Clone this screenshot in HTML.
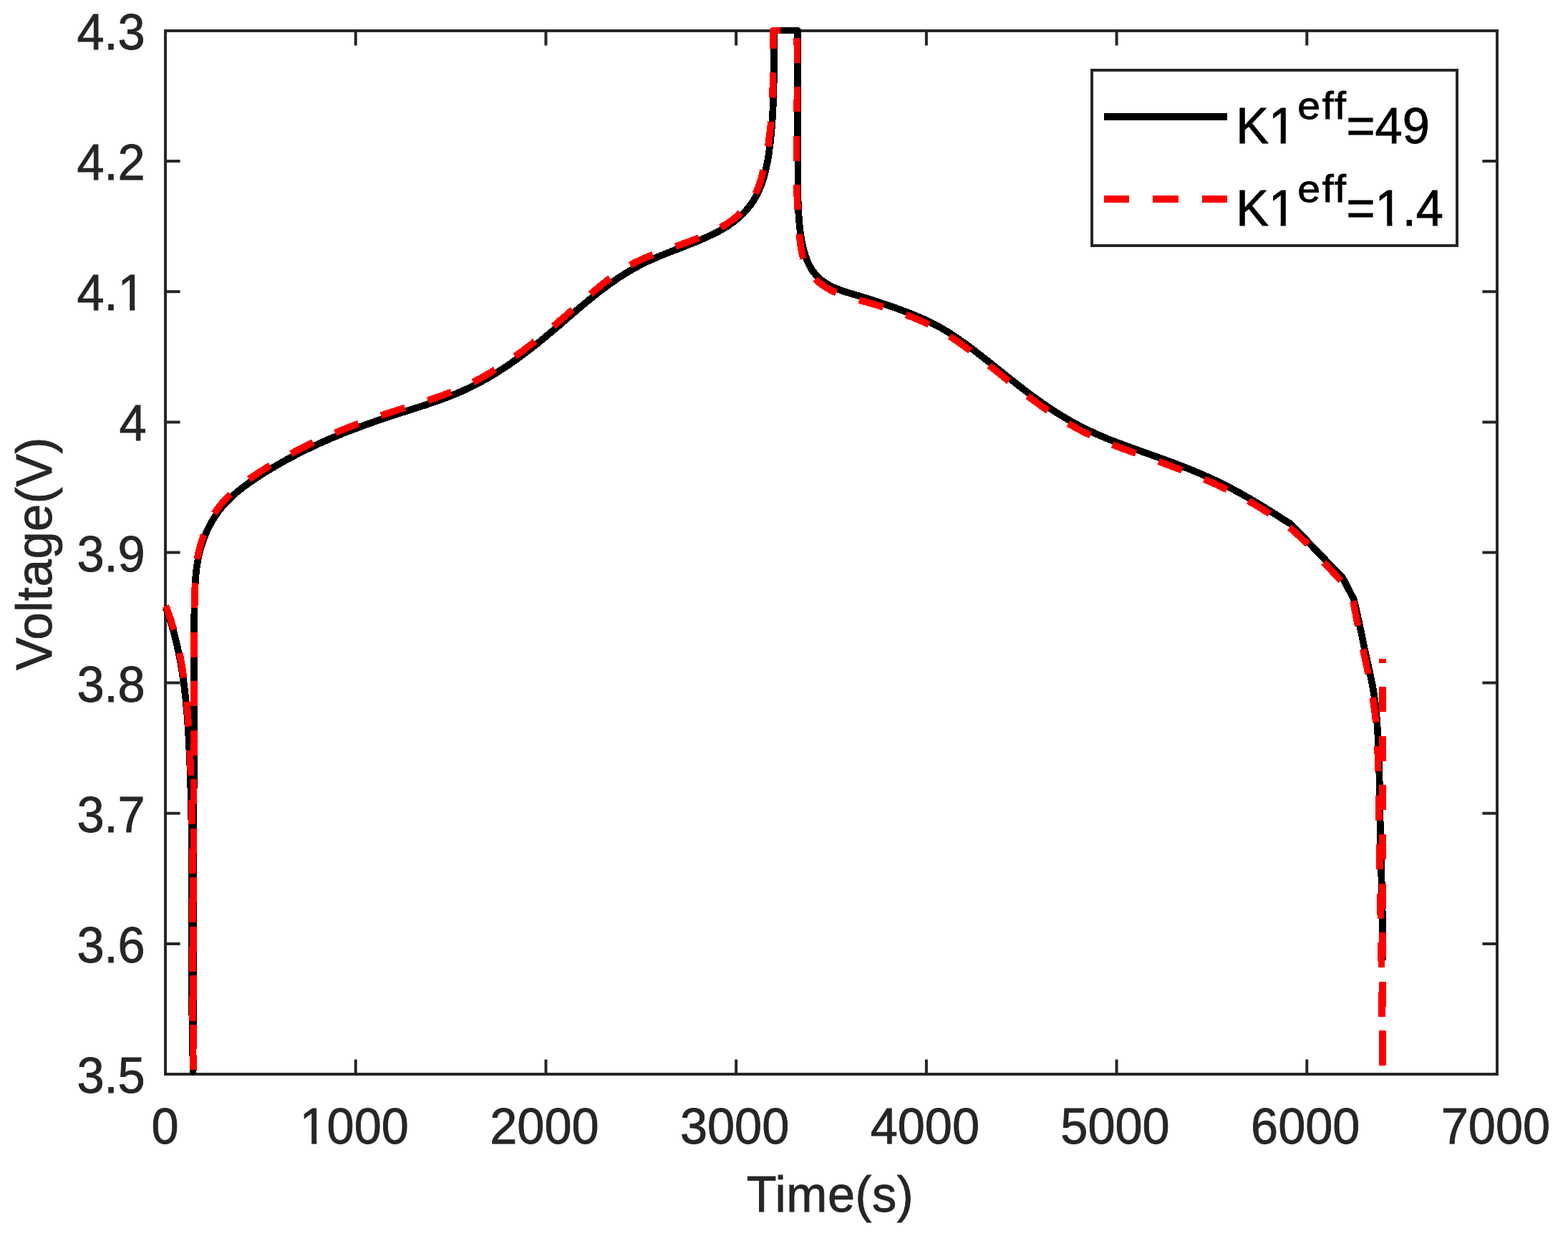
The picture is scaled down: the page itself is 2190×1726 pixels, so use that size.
<!DOCTYPE html>
<html lang="en">
<head>
<meta charset="utf-8">
<title>Voltage vs Time</title>
<style>
html,body{margin:0;padding:0;background:#fff;}
body{width:2190px;height:1726px;overflow:hidden;}
svg{display:block;position:absolute;left:0;top:0;}
text{font-family:"Liberation Sans",Arial,Helvetica,sans-serif;font-size:68.5px;}
.tl{fill:#262626;stroke:#262626;stroke-width:0.85px;}
.lg{fill:#000;stroke:#000;stroke-width:0.9px;}
.sup{font-size:54.5px;letter-spacing:2.4px;}
</style>
</head>
<body>
<svg width="2190" height="1726" viewBox="0 0 2190 1726">
<defs><clipPath id="one1"><path clip-rule="evenodd" d="M-200 -100H400V60H-200ZM-72.60 -7H-59.45V3H-72.60ZM-52.40 -7H-39.70V3H-52.40Z"/></clipPath><clipPath id="one2"><path clip-rule="evenodd" d="M-200 -100H400V60H-200ZM-34.50 -7H-21.35V3H-34.50ZM-14.30 -7H-1.60V3H-14.30Z"/></clipPath><clipPath id="one3"><path clip-rule="evenodd" d="M-200 -100H400V60H-200ZM49.27 -7H62.42V3H49.27ZM69.47 -7H82.17V3H69.47Z"/></clipPath><clipPath id="one4"><path clip-rule="evenodd" d="M-200 -100H400V60H-200ZM43.59 -7H56.74V3H43.59ZM63.79 -7H76.49V3H63.79Z"/></clipPath><clipPath id="axclip"><rect x="225" y="37" width="1872" height="1469"/></clipPath></defs>
<rect x="0" y="0" width="2190" height="1726" fill="#fff"/>
<rect x="231" y="43" width="1860" height="1457" fill="#fff" stroke="none"/>
<path d="M496.71 1500V1479.4M496.71 43V63.6M762.43 1500V1479.4M762.43 43V63.6M1028.14 1500V1479.4M1028.14 43V63.6M1293.86 1500V1479.4M1293.86 43V63.6M1559.57 1500V1479.4M1559.57 43V63.6M1825.29 1500V1479.4M1825.29 43V63.6M231 1317.88H251.6M2091 1317.88H2070.4M231 1135.75H251.6M2091 1135.75H2070.4M231 953.62H251.6M2091 953.62H2070.4M231 771.50H251.6M2091 771.50H2070.4M231 589.38H251.6M2091 589.38H2070.4M231 407.25H251.6M2091 407.25H2070.4M231 225.12H251.6M2091 225.12H2070.4" stroke="#262626" stroke-width="4" fill="none"/>
<rect x="231" y="43" width="1860" height="1457" fill="none" stroke="#262626" stroke-width="4"/>
<g clip-path="url(#axclip)" shape-rendering="crispEdges"><path d="M231.0 848.0L232.9 851.6L234.2 855.4L235.5 859.3L236.8 863.1L238.0 867.0L239.2 870.8L240.4 874.7L241.5 878.5L242.6 882.4L243.6 886.3L244.6 890.2L245.6 894.1L246.5 898.0L247.5 901.9L248.3 905.8L249.2 909.8L250.0 913.7L250.8 917.6L251.5 921.6L252.3 925.5L253.0 929.4L253.6 933.4L254.3 937.4L254.9 941.3L255.5 945.3L256.1 949.3L256.6 953.2L257.2 957.2L257.7 961.2L258.1 965.2L258.6 969.2L259.0 973.2L259.5 977.2L259.9 981.2L260.2 985.2L260.6 989.2L261.0 993.2L261.3 997.2L261.6 1001.2L261.9 1005.2L262.2 1009.2L262.5 1013.2L262.8 1017.2L263.0 1021.3L263.2 1025.3L263.5 1029.3L263.7 1033.3L263.9 1037.3L264.1 1041.4L264.3 1045.4L264.5 1049.4L264.7 1053.4L264.9 1057.5L265.0 1061.5L265.2 1065.5L265.4 1069.5L265.5 1073.6L265.7 1077.6L265.8 1081.6L265.9 1085.6L266.1 1089.6L266.2 1093.7L266.3 1097.7L266.4 1101.7L266.5 1105.7L266.7 1109.8L266.8 1113.8L266.8 1117.8L266.9 1121.8L267.0 1125.9L267.1 1129.9L267.2 1133.9L267.3 1137.9L267.3 1142.0L267.4 1146.0L267.5 1150.0L267.5 1154.0L267.6 1158.1L267.6 1162.1L267.7 1166.1L267.7 1170.1L267.8 1174.2L267.8 1178.2L267.8 1182.2L267.9 1186.2L267.9 1190.3L267.9 1194.3L267.9 1198.3L268.0 1202.3L268.0 1206.4L268.0 1210.4L268.0 1214.4L268.0 1218.4L268.0 1222.4L268.1 1226.5L268.1 1230.5L268.1 1234.5L268.1 1238.5L268.1 1242.6L268.1 1246.6L268.1 1250.6L268.1 1254.6L268.1 1258.7L268.1 1262.7L268.1 1266.7L268.1 1270.7L268.1 1274.8L268.1 1278.8L268.0 1282.8L268.0 1286.8L268.0 1290.9L268.0 1294.9L268.0 1298.9L268.0 1302.9L268.0 1307.0L268.0 1311.0L268.0 1315.0L268.0 1319.0L268.0 1323.1L268.0 1327.1L268.0 1331.1L268.0 1335.1L268.0 1339.1L268.0 1343.2L268.0 1347.2L268.0 1351.2L268.0 1355.2L268.0 1359.3L268.0 1363.3L268.0 1367.3L268.0 1371.3L268.1 1375.4L268.1 1379.4L268.1 1383.4L268.1 1387.4L268.1 1391.4L268.2 1395.5L268.2 1399.5L268.2 1403.5L268.3 1407.5L268.3 1411.6L268.3 1415.6L268.4 1419.6L268.4 1423.6L268.5 1427.6L268.5 1431.7L268.6 1435.7L268.7 1439.7L268.7 1443.7L268.8 1447.7L268.9 1451.8L268.9 1455.8L269.0 1459.8L269.1 1463.8L269.2 1467.8L269.3 1471.9L269.4 1475.9L269.5 1479.9L269.6 1483.9L269.7 1487.9L269.9 1492.0L269.6 1496.0L269.7 1492.0L269.6 1488.0L269.6 1484.0L269.6 1480.0L269.6 1476.0L269.6 1472.0L269.6 1468.0L269.6 1464.0L269.6 1460.0L269.6 1456.0L269.6 1452.0L269.6 1448.0L269.6 1444.0L269.6 1440.0L269.6 1436.0L269.7 1432.0L269.7 1428.0L269.7 1424.0L269.7 1420.0L269.7 1416.0L269.7 1412.0L269.7 1408.0L269.7 1404.0L269.7 1400.0L269.7 1396.0L269.7 1392.0L269.7 1388.0L269.7 1384.0L269.7 1380.0L269.7 1376.0L269.7 1372.0L269.8 1368.0L269.8 1364.0L269.8 1359.9L269.8 1355.9L269.8 1351.9L269.8 1347.9L269.8 1343.9L269.8 1339.9L269.8 1335.9L269.9 1331.9L269.9 1327.9L269.9 1323.9L269.9 1319.9L269.9 1315.9L269.9 1311.9L269.9 1307.9L269.9 1303.9L270.0 1299.9L270.0 1295.9L270.0 1291.9L270.0 1287.9L270.0 1283.9L270.0 1279.9L270.0 1275.9L270.0 1271.9L270.1 1267.9L270.1 1263.9L270.1 1259.9L270.1 1255.9L270.1 1251.9L270.1 1247.9L270.2 1243.9L270.2 1239.9L270.2 1235.9L270.2 1231.8L270.2 1227.8L270.2 1223.8L270.2 1219.8L270.3 1215.8L270.3 1211.8L270.3 1207.8L270.3 1203.8L270.3 1199.8L270.3 1195.8L270.3 1191.8L270.4 1187.8L270.4 1183.8L270.4 1179.8L270.4 1175.8L270.4 1171.8L270.4 1167.8L270.4 1163.8L270.5 1159.8L270.5 1155.8L270.5 1151.8L270.5 1147.8L270.5 1143.8L270.5 1139.8L270.5 1135.8L270.6 1131.8L270.6 1127.8L270.6 1123.8L270.6 1119.8L270.6 1115.8L270.6 1111.8L270.6 1107.8L270.6 1103.8L270.7 1099.8L270.7 1095.7L270.7 1091.7L270.7 1087.7L270.7 1083.7L270.7 1079.7L270.7 1075.7L270.7 1071.7L270.7 1067.7L270.7 1063.7L270.8 1059.7L270.8 1055.7L270.8 1051.7L270.8 1047.7L270.8 1043.7L270.8 1039.7L270.8 1035.7L270.8 1031.7L270.8 1027.7L270.8 1023.7L270.8 1019.7L270.8 1015.7L270.8 1011.7L270.8 1007.7L270.9 1003.7L270.9 999.7L270.9 995.7L270.9 991.7L270.9 987.7L270.9 983.7L270.9 979.7L270.9 975.7L270.9 971.7L270.9 967.7L270.9 963.7L270.9 959.7L270.9 955.7L270.9 951.7L270.9 947.7L270.9 943.7L270.9 939.7L270.9 935.7L270.9 931.7L270.9 927.7L270.9 923.7L270.9 919.7L270.9 915.8L270.9 911.8L270.9 907.8L270.9 903.8L270.9 899.8L270.9 895.8L270.9 891.8L271.0 887.8L271.0 883.8L271.0 879.8L271.1 875.7L271.1 871.7L271.2 867.7L271.3 863.7L271.3 859.7L271.4 855.7L271.5 851.7L271.6 847.7L271.7 843.7L271.8 839.7L271.9 835.7L272.0 831.7L272.2 827.7L272.3 823.6L272.5 819.6L272.7 815.6L272.9 811.6L273.2 807.6L273.5 803.6L273.9 799.6L274.3 795.6L274.8 791.7L275.4 787.7L276.1 783.7L276.8 779.8L277.6 775.9L278.5 772.0L279.6 768.1L280.6 764.2L281.8 760.4L283.1 756.6L284.4 752.8L285.9 749.1L287.4 745.4L289.0 741.7L290.7 738.1L292.5 734.5L294.4 731.0L296.3 727.6L298.4 724.2L300.5 720.8L302.8 717.5L305.1 714.3L307.5 711.2L310.0 708.1L312.6 705.1L315.2 702.1L318.0 699.3L320.8 696.5L323.7 693.7L326.6 691.0L329.6 688.4L332.7 685.8L335.8 683.3L339.0 680.8L342.2 678.4L345.5 676.0L348.8 673.7L352.1 671.4L355.5 669.1L358.8 666.9L362.2 664.7L365.6 662.5L369.0 660.3L372.4 658.2L375.9 656.1L379.3 654.0L382.8 652.0L386.2 650.0L389.7 648.0L393.2 646.0L396.7 644.0L400.2 642.1L403.7 640.2L407.2 638.3L410.8 636.5L414.3 634.6L417.9 632.8L421.4 631.0L425.0 629.2L428.6 627.5L432.2 625.8L435.8 624.0L439.4 622.4L443.0 620.7L446.6 619.0L450.3 617.4L453.9 615.8L457.6 614.2L461.2 612.6L464.9 611.1L468.6 609.5L472.3 608.0L476.0 606.5L479.7 605.0L483.4 603.5L487.1 602.0L490.8 600.6L494.6 599.2L498.3 597.8L502.0 596.4L505.8 595.0L509.5 593.6L513.3 592.2L517.1 590.9L520.9 589.6L524.6 588.2L528.4 586.9L532.2 585.6L536.0 584.3L539.8 583.1L543.6 581.8L547.5 580.6L551.3 579.3L555.1 578.1L558.9 576.9L562.8 575.6L566.6 574.4L570.5 573.2L574.3 572.0L578.1 570.7L582.0 569.5L585.8 568.3L589.6 567.0L593.4 565.8L597.2 564.5L601.0 563.2L604.8 561.9L608.6 560.6L612.4 559.3L616.2 557.9L619.9 556.5L623.7 555.1L627.4 553.7L631.1 552.2L634.8 550.7L638.5 549.2L642.1 547.6L645.8 546.0L649.4 544.4L653.0 542.7L656.6 541.0L660.1 539.2L663.7 537.4L667.2 535.6L670.7 533.7L674.2 531.8L677.7 529.8L681.1 527.9L684.5 525.9L688.0 523.8L691.4 521.8L694.7 519.7L698.1 517.5L701.5 515.4L704.8 513.2L708.1 511.0L711.4 508.8L714.7 506.5L718.0 504.2L721.3 501.9L724.5 499.5L727.7 497.2L731.0 494.8L734.2 492.4L737.4 490.0L740.5 487.5L743.7 485.1L746.9 482.6L750.0 480.1L753.2 477.6L756.3 475.0L759.4 472.5L762.5 469.9L765.6 467.3L768.7 464.7L771.8 462.1L774.8 459.5L777.9 456.9L781.0 454.3L784.0 451.7L787.1 449.0L790.2 446.4L793.2 443.8L796.3 441.2L799.3 438.5L802.4 435.9L805.4 433.3L808.5 430.7L811.6 428.1L814.7 425.5L817.8 423.0L820.8 420.4L823.9 417.9L827.1 415.4L830.2 412.9L833.3 410.4L836.5 407.9L839.6 405.5L842.8 403.1L846.0 400.7L849.2 398.3L852.4 396.0L855.6 393.7L858.9 391.5L862.2 389.2L865.5 387.0L868.8 384.9L872.1 382.7L875.5 380.7L878.9 378.6L882.3 376.6L885.8 374.7L889.2 372.8L892.7 370.9L896.3 369.1L899.8 367.3L903.4 365.6L907.0 363.9L910.6 362.3L914.3 360.7L918.0 359.1L921.6 357.6L925.4 356.1L929.1 354.6L932.8 353.1L936.6 351.6L940.3 350.1L944.1 348.7L947.8 347.2L951.6 345.8L955.4 344.3L959.1 342.8L962.9 341.3L966.7 339.8L970.4 338.3L974.2 336.8L977.9 335.2L981.6 333.6L985.3 331.9L989.0 330.3L992.7 328.5L996.3 326.8L999.9 324.9L1003.5 323.1L1007.0 321.1L1010.5 319.1L1013.9 317.1L1017.2 314.9L1020.5 312.7L1023.7 310.4L1026.9 308.0L1030.0 305.5L1033.0 302.9L1035.9 300.2L1038.7 297.5L1041.4 294.6L1044.0 291.6L1046.5 288.5L1048.8 285.4L1051.1 282.1L1053.2 278.8L1055.2 275.4L1057.1 271.9L1058.9 268.3L1060.6 264.7L1062.1 261.1L1063.6 257.4L1064.9 253.6L1066.2 249.8L1067.3 246.0L1068.3 242.1L1069.3 238.2L1070.2 234.3L1071.0 230.3L1071.8 226.4L1072.5 222.4L1073.2 218.4L1073.8 214.4L1074.3 210.4L1074.9 206.4L1075.4 202.4L1075.9 198.4L1076.3 194.4L1076.7 190.4L1077.1 186.4L1077.5 182.4L1077.8 178.4L1078.2 174.5L1078.5 170.5L1078.7 166.5L1079.0 162.5L1079.2 158.5L1079.4 154.5L1079.6 150.6L1079.8 146.6L1080.0 142.6L1080.1 138.6L1080.2 134.6L1080.4 130.6L1080.5 126.7L1080.6 122.7L1080.6 118.7L1080.7 114.7L1080.7 110.7L1080.8 106.7L1080.8 102.7L1080.9 98.7L1080.9 94.7L1080.9 90.7L1080.9 86.7L1080.9 82.7L1080.9 78.7L1080.9 74.7L1080.9 70.7L1080.9 66.7L1080.9 62.7L1080.9 58.7L1080.9 54.6L1080.9 50.6L1080.9 46.6L1080.9 42.6L1113.9 42.6L1113.9 46.6L1113.9 50.6L1113.8 54.6L1113.8 58.5L1113.8 62.5L1113.7 66.5L1113.7 70.5L1113.7 74.5L1113.7 78.5L1113.7 82.5L1113.7 86.5L1113.7 90.5L1113.7 94.5L1113.7 98.5L1113.7 102.5L1113.7 106.5L1113.7 110.5L1113.7 114.6L1113.8 118.6L1113.8 122.6L1113.8 126.6L1113.8 130.6L1113.9 134.6L1113.9 138.7L1113.9 142.7L1114.0 146.7L1114.0 150.7L1114.0 154.7L1114.0 158.8L1114.1 162.8L1114.1 166.8L1114.1 170.8L1114.2 174.8L1114.2 178.8L1114.2 182.8L1114.3 186.9L1114.3 190.9L1114.3 194.9L1114.4 198.9L1114.4 202.9L1114.4 206.9L1114.4 210.9L1114.4 214.9L1114.4 218.9L1114.5 222.9L1114.5 226.9L1114.5 230.8L1114.5 234.8L1114.5 238.8L1114.5 242.8L1114.5 246.7L1114.5 250.7L1114.5 254.7L1114.5 258.7L1114.5 262.6L1114.5 266.6L1114.5 270.6L1114.6 274.5L1114.6 278.5L1114.7 282.5L1114.9 286.4L1115.0 290.4L1115.2 294.4L1115.4 298.4L1115.7 302.4L1116.0 306.4L1116.3 310.4L1116.7 314.4L1117.1 318.5L1117.6 322.5L1118.1 326.5L1118.7 330.6L1119.4 334.7L1120.2 338.7L1121.0 342.7L1121.9 346.7L1122.9 350.7L1124.1 354.5L1125.3 358.4L1126.7 362.1L1128.2 365.8L1129.9 369.3L1131.7 372.8L1133.7 376.1L1135.8 379.3L1138.2 382.3L1140.7 385.2L1143.4 388.0L1146.3 390.5L1149.4 392.9L1152.7 395.1L1156.2 397.2L1159.8 399.1L1163.4 400.9L1167.2 402.5L1171.0 404.1L1174.8 405.5L1178.6 406.8L1182.5 408.1L1186.4 409.3L1190.3 410.5L1194.1 411.6L1198.0 412.8L1201.9 413.9L1205.7 415.1L1209.5 416.2L1213.4 417.4L1217.2 418.6L1220.9 419.8L1224.7 421.1L1228.5 422.3L1232.3 423.6L1236.0 424.9L1239.8 426.2L1243.5 427.5L1247.3 428.8L1251.0 430.1L1254.8 431.5L1258.5 432.9L1262.3 434.3L1266.0 435.7L1269.8 437.1L1273.5 438.6L1277.2 440.1L1280.9 441.7L1284.6 443.3L1288.3 444.9L1291.9 446.5L1295.6 448.2L1299.2 449.9L1302.7 451.7L1306.3 453.6L1309.8 455.4L1313.3 457.4L1316.8 459.3L1320.2 461.4L1323.7 463.4L1327.0 465.6L1330.4 467.7L1333.7 469.9L1337.0 472.2L1340.3 474.5L1343.6 476.8L1346.9 479.1L1350.1 481.5L1353.3 483.9L1356.5 486.3L1359.7 488.7L1362.9 491.1L1366.1 493.6L1369.2 496.0L1372.4 498.5L1375.6 501.0L1378.7 503.4L1381.8 505.9L1385.0 508.4L1388.1 510.9L1391.2 513.4L1394.4 515.9L1397.5 518.4L1400.6 520.9L1403.8 523.4L1406.9 525.9L1410.0 528.4L1413.2 530.9L1416.3 533.3L1419.5 535.8L1422.6 538.3L1425.8 540.7L1429.0 543.2L1432.1 545.6L1435.3 548.0L1438.5 550.4L1441.7 552.8L1445.0 555.1L1448.2 557.5L1451.4 559.8L1454.7 562.1L1458.0 564.4L1461.3 566.7L1464.6 568.9L1467.9 571.1L1471.2 573.3L1474.6 575.5L1478.0 577.6L1481.4 579.7L1484.8 581.8L1488.3 583.8L1491.7 585.8L1495.2 587.8L1498.7 589.8L1502.2 591.7L1505.8 593.6L1509.3 595.4L1512.9 597.3L1516.5 599.1L1520.1 600.8L1523.7 602.5L1527.4 604.2L1531.0 605.9L1534.7 607.5L1538.3 609.1L1542.0 610.7L1545.7 612.2L1549.4 613.7L1553.1 615.2L1556.8 616.6L1560.6 618.0L1564.3 619.4L1568.0 620.8L1571.8 622.2L1575.5 623.6L1579.3 624.9L1583.0 626.3L1586.8 627.6L1590.6 629.0L1594.3 630.3L1598.1 631.7L1601.9 633.0L1605.7 634.4L1609.4 635.7L1613.2 637.1L1617.0 638.4L1620.7 639.8L1624.5 641.2L1628.3 642.5L1632.0 643.9L1635.8 645.3L1639.6 646.7L1643.3 648.1L1647.1 649.6L1650.8 651.0L1654.5 652.5L1658.3 653.9L1662.0 655.4L1665.7 656.9L1669.4 658.5L1673.1 660.0L1676.8 661.6L1680.4 663.2L1684.1 664.8L1687.8 666.4L1691.4 668.0L1695.0 669.7L1698.7 671.4L1702.3 673.2L1705.8 674.9L1709.4 676.7L1713.0 678.5L1716.5 680.3L1720.1 682.2L1723.6 684.1L1727.1 686.0L1730.6 687.9L1734.1 689.8L1737.6 691.8L1741.1 693.8L1744.5 695.8L1748.0 697.8L1751.4 699.8L1754.9 701.9L1758.3 703.9L1761.7 706.0L1765.2 708.1L1768.6 710.2L1772.0 712.3L1775.4 714.4L1778.7 716.6L1782.1 718.7L1785.5 720.9L1788.9 723.0L1792.2 725.2L1795.6 727.4L1799.0 729.5L1802.5 731.4L1875.4 807.2L1890.6 836.4L1891.6 840.3L1892.6 844.2L1893.5 848.1L1894.4 852.0L1895.3 855.9L1896.2 859.8L1897.0 863.7L1897.9 867.6L1898.7 871.5L1899.5 875.4L1900.3 879.3L1901.2 883.2L1902.0 887.1L1902.8 891.1L1903.6 895.0L1904.4 898.9L1905.2 902.8L1906.0 906.7L1906.9 910.6L1907.7 914.5L1908.6 918.4L1909.4 922.4L1910.3 926.3L1911.2 930.2L1912.0 934.1L1912.9 938.0L1913.7 941.9L1914.6 945.8L1915.4 949.8L1916.2 953.7L1917.0 957.6L1917.7 961.5L1918.3 965.5L1919.0 969.4L1919.6 973.4L1920.1 977.3L1920.6 981.3L1921.1 985.2L1921.5 989.2L1921.9 993.2L1922.3 997.2L1922.6 1001.1L1923.0 1005.1L1923.3 1009.1L1923.5 1013.1L1923.8 1017.1L1924.0 1021.1L1924.3 1025.0L1924.5 1029.0L1924.7 1033.0L1924.9 1037.0L1925.1 1041.0L1925.2 1045.0L1925.4 1049.0L1925.5 1053.0L1925.7 1057.0L1925.8 1061.0L1926.0 1065.0L1926.1 1069.0L1926.2 1073.0L1926.3 1077.0L1926.4 1081.0L1926.5 1085.0L1926.6 1089.0L1926.7 1093.0L1926.8 1097.0L1926.9 1101.0L1927.0 1105.0L1927.0 1109.0L1927.1 1113.0L1927.2 1117.0L1927.3 1121.0L1927.3 1125.0L1927.4 1129.0L1927.5 1133.0L1927.5 1137.0L1927.6 1141.0L1927.6 1145.0L1927.7 1149.0L1927.8 1153.0L1927.8 1157.0L1927.9 1161.0L1928.0 1165.0L1928.1 1169.0L1928.1 1173.0L1928.2 1177.0L1928.3 1181.0L1928.4 1185.0L1928.5 1189.0L1928.6 1193.0L1928.7 1197.0L1928.8 1201.0L1928.9 1205.0L1929.0 1209.0L1929.1 1213.0L1929.2 1217.0L1929.3 1221.0L1929.4 1225.0L1929.6 1229.0L1929.7 1233.0L1929.8 1237.0L1929.9 1241.0L1930.0 1245.0L1930.1 1249.0L1930.2 1253.0L1930.3 1257.0L1930.4 1261.0L1930.5 1265.0L1930.6 1269.0L1930.7 1273.0L1930.8 1277.0L1930.9 1281.0L1930.9 1285.0L1931.0 1289.0L1931.1 1293.0L1931.1 1297.0L1931.2 1301.0L1931.2 1305.0L1931.3 1309.0L1931.3 1313.0L1931.3 1317.0L1931.3 1321.0L1931.3 1325.0L1931.3 1329.0L1931.3 1333.0L1931.3 1337.0L1931.3 1341.0" fill="none" stroke="#000" stroke-width="9.7" stroke-linejoin="round"/>
<path d="M231.3 846.3L233.1 849.9L234.5 853.7L235.8 857.5L237.1 861.4L238.4 865.2L239.6 869.0L240.8 872.9L242.0 876.7L243.1 880.6L244.1 884.5L245.2 888.3L246.2 892.2L247.1 896.1L248.1 900.0L249.0 903.9L249.8 907.8L250.7 911.7L251.5 915.6L252.2 919.6L253.0 923.5L253.7 927.4L254.4 931.4L255.0 935.3L255.6 939.3L256.2 943.2L256.8 947.2L257.4 951.2L257.9 955.1L258.4 959.1L258.9 963.1L259.3 967.1L259.8 971.0L260.2 975.0L260.6 979.0L261.0 983.0L261.3 987.0L261.7 991.0L262.0 995.0L262.3 999.0L262.6 1003.0L262.9 1007.0L263.1 1011.0L263.4 1015.0L263.7 1019.0L263.9 1023.1L264.1 1027.1L264.3 1031.1L264.5 1035.1L264.7 1039.1L264.9 1043.1L265.1 1047.1L265.3 1051.2L265.5 1055.2L265.6 1059.2L265.8 1063.2L266.0 1067.2L266.1 1071.2L266.3 1075.2L266.4 1079.3L266.5 1083.3L266.7 1087.3L266.8 1091.3L266.9 1095.3L267.0 1099.3L267.2 1103.3L267.3 1107.4L267.4 1111.4L267.5 1115.4L267.6 1119.4L267.7 1123.4L267.8 1127.4L267.9 1131.4L267.9 1135.5L268.0 1139.5L268.1 1143.5L268.2 1147.5L268.2 1151.5L268.3 1155.5L268.4 1159.5L268.4 1163.6L268.5 1167.6L268.5 1171.6L268.6 1175.6L268.6 1179.6L268.7 1183.6L268.7 1187.6L268.7 1191.7L268.8 1195.7L268.8 1199.7L268.8 1203.7L268.9 1207.7L268.9 1211.7L268.9 1215.7L268.9 1219.7L269.0 1223.8L269.0 1227.8L269.0 1231.8L269.0 1235.8L269.0 1239.8L269.0 1243.8L269.0 1247.8L269.1 1251.9L269.1 1255.9L269.1 1259.9L269.1 1263.9L269.1 1267.9L269.1 1271.9L269.1 1275.9L269.1 1279.9L269.1 1284.0L269.1 1288.0L269.1 1292.0L269.1 1296.0L269.1 1300.0L269.1 1304.0L269.1 1308.0L269.1 1312.0L269.1 1316.1L269.1 1320.1L269.1 1324.1L269.0 1328.1L269.0 1332.1L269.0 1336.1L269.0 1340.1L269.0 1344.1L269.0 1348.2L269.0 1352.2L269.0 1356.2L269.0 1360.2L269.0 1364.2L269.0 1368.2L269.0 1372.2L269.0 1376.3L269.1 1380.3L269.1 1384.3L269.1 1388.3L269.1 1392.3L269.1 1396.3L269.1 1400.3L269.1 1404.3L269.1 1408.4L269.1 1412.4L269.2 1416.4L269.2 1420.4L269.2 1424.4L269.2 1428.4L269.3 1432.4L269.3 1436.4L269.3 1440.5L269.4 1444.5L269.4 1448.5L269.4 1452.5L269.5 1456.5L269.5 1460.5L269.6 1464.5L269.6 1468.6L269.7 1472.6L269.7 1476.6L269.8 1480.6L269.9 1484.6L269.9 1488.6L270.0 1492.6L269.6 1496.7L269.6 1492.6L269.6 1488.6L269.6 1484.6L269.6 1480.6L269.6 1476.6L269.6 1472.6L269.6 1468.6L269.7 1464.6L269.7 1460.6L269.7 1456.6L269.7 1452.6L269.7 1448.6L269.7 1444.6L269.7 1440.6L269.7 1436.6L269.7 1432.6L269.7 1428.6L269.7 1424.6L269.7 1420.6L269.7 1416.6L269.7 1412.6L269.7 1408.6L269.7 1404.6L269.7 1400.6L269.7 1396.5L269.8 1392.5L269.8 1388.5L269.8 1384.5L269.8 1380.5L269.8 1376.5L269.8 1372.5L269.8 1368.5L269.8 1364.5L269.8 1360.5L269.8 1356.5L269.8 1352.5L269.9 1348.5L269.9 1344.5L269.9 1340.5L269.9 1336.5L269.9 1332.5L269.9 1328.5L269.9 1324.5L269.9 1320.5L269.9 1316.5L269.9 1312.4L270.0 1308.4L270.0 1304.4L270.0 1300.4L270.0 1296.4L270.0 1292.4L270.0 1288.4L270.0 1284.4L270.0 1280.4L270.0 1276.4L270.1 1272.4L270.1 1268.4L270.1 1264.4L270.1 1260.4L270.1 1256.4L270.1 1252.4L270.1 1248.4L270.1 1244.4L270.2 1240.4L270.2 1236.4L270.2 1232.3L270.2 1228.3L270.2 1224.3L270.2 1220.3L270.2 1216.3L270.2 1212.3L270.3 1208.3L270.3 1204.3L270.3 1200.3L270.3 1196.3L270.3 1192.3L270.3 1188.3L270.3 1184.3L270.3 1180.3L270.4 1176.3L270.4 1172.3L270.4 1168.3L270.4 1164.3L270.4 1160.3L270.4 1156.3L270.4 1152.3L270.4 1148.2L270.5 1144.2L270.5 1140.2L270.5 1136.2L270.5 1132.2L270.5 1128.2L270.5 1124.2L270.5 1120.2L270.5 1116.2L270.5 1112.2L270.6 1108.2L270.6 1104.2L270.6 1100.2L270.6 1096.2L270.6 1092.2L270.6 1088.2L270.6 1084.2L270.6 1080.2L270.6 1076.2L270.7 1072.2L270.7 1068.2L270.7 1064.2L270.7 1060.1L270.7 1056.1L270.7 1052.1L270.7 1048.1L270.7 1044.1L270.7 1040.1L270.7 1036.1L270.8 1032.1L270.8 1028.1L270.8 1024.1L270.8 1020.1L270.8 1016.1L270.8 1012.1L270.8 1008.1L270.8 1004.1L270.8 1000.1L270.8 996.1L270.8 992.1L270.8 988.1L270.8 984.1L270.8 980.1L270.9 976.1L270.9 972.1L270.9 968.1L270.9 964.1L270.9 960.1L270.9 956.0L270.9 952.0L270.9 948.0L270.9 944.0L270.9 940.0L270.9 936.0L270.9 932.0L270.9 928.0L270.9 924.0L270.9 920.0L270.9 916.0L271.0 912.0L271.0 908.0L271.0 904.0L271.0 900.0L271.0 896.0L271.1 892.0L271.1 888.0L271.1 884.0L271.1 880.0L271.2 876.0L271.2 872.0L271.3 868.0L271.3 864.0L271.4 860.0L271.5 856.0L271.5 852.0L271.6 847.9L271.7 843.9L271.8 839.9L271.9 835.9L272.0 831.9L272.1 827.9L272.2 823.9L272.3 819.9L272.5 815.9L272.6 811.9L272.8 807.9L273.1 803.9L273.4 799.9L273.7 795.9L274.1 791.9L274.5 787.9L275.1 784.0L275.7 780.0L276.4 776.1L277.2 772.1L278.1 768.2L279.1 764.3L280.1 760.4L281.3 756.6L282.5 752.7L283.8 748.9L285.3 745.2L286.8 741.5L288.4 737.8L290.0 734.1L291.8 730.5L293.7 727.0L295.6 723.5L297.6 720.1L299.7 716.7L302.0 713.4L304.2 710.1L306.6 706.9L309.1 703.8L311.7 700.8L314.3 697.8L317.0 694.9L319.8 692.1L322.7 689.4L325.6 686.7L328.6 684.0L331.6 681.4L334.7 678.9L337.9 676.4L341.1 674.0L344.3 671.6L347.6 669.2L350.9 666.9L354.2 664.7L357.6 662.4L361.0 660.2L364.4 658.0L367.8 655.9L371.2 653.7L374.6 651.6L378.1 649.5L381.5 647.5L385.0 645.4L388.4 643.4L391.9 641.5L395.4 639.5L398.9 637.5L402.4 635.6L406.0 633.7L409.5 631.9L413.1 630.0L416.6 628.2L420.2 626.4L423.8 624.6L427.3 622.8L430.9 621.1L434.5 619.3L438.2 617.6L441.8 616.0L445.4 614.3L449.0 612.6L452.7 611.0L456.4 609.4L460.0 607.8L463.7 606.2L467.4 604.7L471.1 603.1L474.8 601.6L478.5 600.1L482.2 598.6L485.9 597.2L489.6 595.7L493.4 594.3L497.1 592.8L500.8 591.4L504.6 590.0L508.3 588.7L512.1 587.3L515.9 585.9L519.7 584.6L523.4 583.3L527.2 582.0L531.0 580.7L534.8 579.4L538.6 578.1L542.4 576.9L546.2 575.6L550.1 574.4L553.9 573.2L557.7 571.9L561.5 570.7L565.4 569.5L569.2 568.3L573.0 567.1L576.8 565.9L580.7 564.7L584.5 563.5L588.3 562.2L592.1 561.0L595.9 559.8L599.7 558.5L603.5 557.2L607.3 555.9L611.1 554.6L614.8 553.2L618.6 551.9L622.3 550.5L626.1 549.0L629.8 547.6L633.5 546.1L637.2 544.5L640.9 543.0L644.5 541.4L648.2 539.7L651.8 538.0L655.4 536.3L659.0 534.5L662.5 532.7L666.1 530.9L669.6 529.0L673.1 527.0L676.6 525.1L680.1 523.1L683.6 521.1L687.0 519.0L690.4 516.9L693.8 514.8L697.2 512.6L700.6 510.5L703.9 508.3L707.3 506.0L710.6 503.8L713.9 501.5L717.2 499.2L720.5 496.9L723.7 494.5L726.9 492.1L730.2 489.8L733.3 487.4L736.5 484.9L739.7 482.5L742.8 480.1L746.0 477.6L749.1 475.1L752.2 472.6L755.3 470.1L758.4 467.6L761.5 465.0L764.6 462.5L767.6 459.9L770.7 457.4L773.7 454.8L776.8 452.2L779.8 449.6L782.8 447.0L785.9 444.4L788.9 441.8L791.9 439.2L795.0 436.6L798.0 433.9L801.0 431.3L804.0 428.7L807.1 426.0L810.1 423.4L813.1 420.8L816.2 418.1L819.2 415.5L822.3 412.8L825.3 410.2L828.4 407.6L831.5 405.0L834.6 402.4L837.7 399.8L840.8 397.3L844.0 394.8L847.1 392.3L850.3 389.9L853.5 387.5L856.8 385.1L860.0 382.8L863.3 380.5L866.7 378.3L870.0 376.2L873.4 374.1L876.8 372.1L880.3 370.1L883.8 368.2L887.3 366.4L890.9 364.7L894.5 363.0L898.2 361.3L901.8 359.7L905.5 358.2L909.2 356.7L912.9 355.2L916.7 353.7L920.4 352.3L924.2 351.0L928.0 349.6L931.8 348.2L935.6 346.9L939.4 345.6L943.2 344.2L947.0 342.9L950.8 341.6L954.6 340.2L958.4 338.9L962.2 337.5L965.9 336.1L969.7 334.6L973.4 333.2L977.2 331.7L980.9 330.1L984.5 328.6L988.2 326.9L991.8 325.3L995.4 323.5L999.0 321.7L1002.5 319.9L1006.0 317.9L1009.5 315.9L1012.9 313.8L1016.2 311.7L1019.5 309.4L1022.8 307.1L1025.9 304.7L1029.0 302.2L1032.0 299.6L1035.0 296.9L1037.8 294.2L1040.5 291.3L1043.1 288.4L1045.6 285.4L1047.9 282.2L1050.2 279.0L1052.3 275.7L1054.2 272.2L1056.0 268.7L1057.6 265.1L1059.1 261.3L1060.5 257.6L1061.8 253.7L1063.0 249.8L1064.0 245.9L1065.1 241.9L1066.0 237.9L1067.0 234.0L1067.9 230.0L1068.7 226.1L1069.5 222.1L1070.3 218.1L1071.0 214.2L1071.7 210.2L1072.4 206.3L1073.0 202.3L1073.6 198.4L1074.1 194.4L1074.6 190.4L1075.1 186.5L1075.5 182.5L1076.0 178.5L1076.4 174.5L1076.7 170.6L1077.1 166.6L1077.4 162.6L1077.6 158.6L1077.9 154.7L1078.1 150.7L1078.4 146.7L1078.6 142.7L1078.7 138.7L1078.9 134.7L1079.0 130.7L1079.2 126.7L1079.3 122.7L1079.4 118.7L1079.4 114.7L1079.5 110.7L1079.6 106.7L1079.6 102.7L1079.7 98.7L1079.7 94.7L1079.7 90.7L1079.8 86.7L1079.8 82.7L1079.8 78.7L1079.8 74.7L1079.8 70.7L1079.9 66.7L1079.9 62.6L1079.9 58.6L1079.9 54.6L1080.0 50.6L1080.0 46.6L1080.0 42.6L1113.0 42.6L1112.8 46.5L1113.0 50.6L1113.1 54.6L1113.2 58.7L1113.3 62.7L1113.4 66.8L1113.4 70.8L1113.5 74.8L1113.5 78.9L1113.5 82.9L1113.6 86.9L1113.6 90.9L1113.6 94.9L1113.6 99.0L1113.6 103.0L1113.6 107.0L1113.6 111.0L1113.5 115.0L1113.5 119.0L1113.5 123.0L1113.4 127.0L1113.4 131.0L1113.3 135.0L1113.3 139.0L1113.2 143.0L1113.2 147.0L1113.1 151.0L1113.1 155.0L1113.0 159.0L1113.0 163.0L1112.9 167.0L1112.8 171.0L1112.8 174.9L1112.7 178.9L1112.7 182.9L1112.6 186.9L1112.6 190.9L1112.5 194.9L1112.5 198.9L1112.5 202.9L1112.5 206.9L1112.4 210.9L1112.4 214.9L1112.4 218.9L1112.4 222.9L1112.4 226.9L1112.4 230.9L1112.5 234.9L1112.5 238.9L1112.5 242.9L1112.6 246.9L1112.7 250.9L1112.7 254.9L1112.8 258.9L1112.9 262.9L1113.0 266.9L1113.2 270.9L1113.3 275.0L1113.4 279.0L1113.6 283.0L1113.8 287.0L1114.0 291.1L1114.2 295.1L1114.4 299.1L1114.7 303.2L1114.9 307.2L1115.2 311.3L1115.5 315.3L1115.8 319.4L1116.2 323.4L1116.5 327.5L1116.9 331.6L1117.3 335.6L1117.8 339.7L1118.3 343.7L1119.0 347.7L1119.7 351.6L1120.5 355.5L1121.5 359.3L1122.7 363.1L1124.0 366.8L1125.5 370.4L1127.1 373.9L1129.0 377.2L1131.2 380.5L1133.5 383.7L1136.0 386.7L1138.7 389.6L1141.6 392.3L1144.7 395.0L1147.8 397.4L1151.1 399.8L1154.5 401.9L1158.0 403.9L1161.6 405.8L1165.2 407.5L1168.9 409.1L1172.7 410.6L1176.5 412.0L1180.3 413.3L1184.2 414.6L1188.1 415.7L1192.0 416.9L1195.9 418.0L1199.9 419.1L1203.7 420.2L1207.6 421.2L1211.5 422.3L1215.3 423.4L1219.2 424.5L1223.0 425.6L1226.8 426.7L1230.6 427.9L1234.4 429.0L1238.2 430.2L1242.0 431.4L1245.8 432.6L1249.6 433.9L1253.4 435.2L1257.2 436.5L1260.9 437.9L1264.7 439.3L1268.4 440.7L1272.2 442.2L1275.9 443.7L1279.6 445.2L1283.3 446.8L1287.0 448.4L1290.6 450.1L1294.3 451.8L1297.9 453.6L1301.5 455.4L1305.0 457.2L1308.6 459.1L1312.1 461.0L1315.5 463.0L1319.0 465.1L1322.4 467.1L1325.8 469.3L1329.2 471.4L1332.5 473.6L1335.8 475.9L1339.1 478.1L1342.4 480.4L1345.7 482.8L1348.9 485.1L1352.2 487.5L1355.4 489.9L1358.6 492.3L1361.8 494.8L1364.9 497.2L1368.1 499.7L1371.3 502.1L1374.4 504.6L1377.6 507.1L1380.7 509.6L1383.9 512.1L1387.0 514.6L1390.1 517.1L1393.3 519.6L1396.4 522.1L1399.5 524.7L1402.7 527.2L1405.8 529.7L1408.9 532.2L1412.1 534.7L1415.2 537.2L1418.3 539.7L1421.5 542.2L1424.6 544.6L1427.8 547.1L1431.0 549.5L1434.2 552.0L1437.3 554.4L1440.5 556.8L1443.7 559.2L1447.0 561.6L1450.2 564.0L1453.4 566.3L1456.7 568.6L1460.0 570.9L1463.3 573.2L1466.6 575.4L1469.9 577.7L1473.3 579.9L1476.6 582.0L1480.0 584.2L1483.4 586.3L1486.9 588.4L1490.3 590.4L1493.8 592.4L1497.3 594.4L1500.8 596.4L1504.3 598.3L1507.9 600.2L1511.4 602.1L1515.0 603.9L1518.6 605.7L1522.2 607.4L1525.9 609.1L1529.5 610.8L1533.2 612.5L1536.8 614.1L1540.5 615.7L1544.2 617.2L1547.9 618.7L1551.6 620.2L1555.4 621.6L1559.1 623.1L1562.8 624.5L1566.6 625.9L1570.3 627.3L1574.1 628.6L1577.9 630.0L1581.6 631.3L1585.4 632.7L1589.2 634.0L1593.0 635.4L1596.7 636.7L1600.5 638.1L1604.3 639.4L1608.1 640.8L1611.8 642.1L1615.6 643.5L1619.4 644.8L1623.2 646.2L1626.9 647.6L1630.7 649.0L1634.5 650.4L1638.2 651.8L1642.0 653.2L1645.7 654.6L1649.5 656.1L1653.2 657.5L1657.0 659.0L1660.7 660.4L1664.4 661.9L1668.2 663.4L1671.9 665.0L1675.6 666.5L1679.3 668.0L1683.0 669.6L1686.6 671.2L1690.3 672.8L1694.0 674.5L1697.6 676.1L1701.3 677.8L1704.9 679.5L1708.5 681.2L1712.1 682.9L1715.7 684.7L1719.3 686.5L1722.9 688.3L1726.4 690.1L1730.0 692.0L1733.5 693.9L1737.0 695.8L1740.5 697.7L1744.0 699.7L1747.5 701.7L1751.0 703.7L1754.4 705.7L1757.9 707.8L1761.3 709.9L1764.7 712.0L1768.1 714.1L1771.4 716.3L1774.8 718.5L1778.1 720.7L1781.5 723.0L1784.8 725.2L1788.1 727.5L1791.3 729.9L1794.6 732.2L1797.8 734.6L1801.2 736.8L1805.5 740.2L1826.6 760.0L1849.2 785.5L1872.7 810.8L1877.0 815.6L1890.0 840.3L1890.9 844.2L1891.6 848.1L1892.3 852.1L1893.1 856.0L1893.9 859.9L1894.6 863.8L1895.4 867.8L1896.2 871.7L1897.0 875.6L1897.9 879.5L1898.7 883.4L1899.5 887.4L1900.4 891.3L1901.2 895.2L1902.0 899.1L1902.9 903.0L1903.7 907.0L1904.6 910.9L1905.4 914.8L1906.3 918.7L1907.1 922.6L1908.0 926.6L1908.8 930.5L1909.7 934.4L1910.5 938.3L1911.3 942.3L1912.1 946.2L1912.8 950.1L1913.6 954.1L1914.4 958.0L1915.1 961.9L1915.8 965.9L1916.5 969.8L1917.1 973.8L1917.8 977.7L1918.4 981.7L1918.9 985.6L1919.5 989.6L1920.0 993.5L1920.5 997.5L1921.0 1001.4L1921.4 1005.4L1921.8 1009.4L1922.2 1013.4L1922.5 1017.3L1922.8 1021.3L1923.1 1025.3L1923.3 1029.3L1923.5 1033.3L1923.7 1037.3L1923.9 1041.3L1924.0 1045.3L1924.2 1049.3L1924.3 1053.3L1924.4 1057.3L1924.5 1061.3L1924.5 1065.3L1924.6 1069.3L1924.7 1073.3L1924.7 1077.3L1924.8 1081.3L1924.9 1085.3L1924.9 1089.3L1925.0 1093.3L1925.1 1097.3L1925.2 1101.3L1925.2 1105.3L1925.3 1109.3L1925.4 1113.3L1925.4 1117.3L1925.5 1121.3L1925.6 1125.3L1925.6 1129.3L1925.7 1133.3L1925.8 1137.3L1925.9 1141.3L1925.9 1145.4L1926.0 1149.4L1926.1 1153.4L1926.1 1157.4L1926.2 1161.4L1926.3 1165.4L1926.4 1169.4L1926.4 1173.4L1926.5 1177.4L1926.6 1181.4L1926.6 1185.4L1926.7 1189.4L1926.8 1193.4L1926.9 1197.4L1926.9 1201.4L1927.0 1205.4L1927.1 1209.4L1927.1 1213.4L1927.2 1217.4L1927.3 1221.4L1927.4 1225.4L1927.4 1229.4L1927.5 1233.4L1927.6 1237.4L1927.6 1241.4L1927.7 1245.4L1927.8 1249.4L1927.9 1253.4L1927.9 1257.4L1928.0 1261.5L1928.1 1265.5L1928.1 1269.5L1928.2 1273.5L1928.3 1277.5L1928.3 1281.5L1928.4 1285.5L1928.5 1289.5L1928.5 1293.5L1928.6 1297.5L1928.7 1301.5L1928.7 1305.5L1928.8 1309.5L1928.8 1313.5L1928.9 1317.5L1929.0 1321.5L1929.0 1325.5L1929.1 1329.5L1929.2 1333.5L1929.2 1337.5L1929.3 1341.5L1929.3 1345.5L1929.4 1349.5L1929.4 1353.5L1929.5 1357.5L1929.5 1361.5L1929.6 1365.5L1929.7 1369.5L1929.7 1373.5L1929.8 1377.5L1929.8 1381.5L1929.9 1385.5L1929.9 1389.6L1929.9 1393.6L1930.0 1397.6L1930.0 1401.6L1930.1 1405.6L1930.1 1409.6L1930.2 1413.6L1930.2 1417.6L1930.2 1421.6L1930.3 1425.6L1930.3 1429.6L1930.4 1433.6L1930.4 1437.6L1930.4 1441.6L1930.5 1445.6L1930.5 1449.6L1930.5 1453.6L1930.6 1457.6L1930.6 1461.6L1930.6 1465.6L1930.6 1469.6L1930.7 1473.6L1930.7 1477.6L1930.7 1481.6L1930.7 1485.6L1930.7 1489.6L1930.7 1493.6L1930.8 1497.7L1931.1 1497.7L1931.1 920.0" fill="none" stroke="#f00" stroke-width="9.6" stroke-linejoin="round" stroke-dasharray="35.0 33.52"/></g>
<text class="tl" transform="translate(230.60 1596.90) scale(1 1.02)" text-anchor="middle">0</text><text class="tl" transform="translate(494.66 1596.90) scale(1 1.02)" text-anchor="middle" clip-path="url(#one1)">1000</text><text class="tl" transform="translate(760.38 1596.90) scale(1 1.02)" text-anchor="middle">2000</text><text class="tl" transform="translate(1026.09 1596.90) scale(1 1.02)" text-anchor="middle">3000</text><text class="tl" transform="translate(1291.81 1596.90) scale(1 1.02)" text-anchor="middle">4000</text><text class="tl" transform="translate(1557.52 1596.90) scale(1 1.02)" text-anchor="middle">5000</text><text class="tl" transform="translate(1823.24 1596.90) scale(1 1.02)" text-anchor="middle">6000</text><text class="tl" transform="translate(2088.95 1596.90) scale(1 1.02)" text-anchor="middle">7000</text>
<text class="tl" transform="translate(202.60 1526.10) scale(1 1.02)" text-anchor="end">3.5</text><text class="tl" transform="translate(202.60 1343.97) scale(1 1.02)" text-anchor="end">3.6</text><text class="tl" transform="translate(202.60 1161.85) scale(1 1.02)" text-anchor="end">3.7</text><text class="tl" transform="translate(202.60 979.73) scale(1 1.02)" text-anchor="end">3.8</text><text class="tl" transform="translate(202.60 797.60) scale(1 1.02)" text-anchor="end">3.9</text><text class="tl" transform="translate(204.60 615.48) scale(1 1.02)" text-anchor="end">4</text><text class="tl" transform="translate(202.60 433.35) scale(1 1.02)" text-anchor="end" clip-path="url(#one2)">4.1</text><text class="tl" transform="translate(202.60 251.22) scale(1 1.02)" text-anchor="end">4.2</text><text class="tl" transform="translate(202.60 69.10) scale(1 1.02)" text-anchor="end">4.3</text>
<text class="tl" transform="translate(1159.40 1692.00) scale(1 1.02)" text-anchor="middle" style="letter-spacing:0.55px">Time(s)</text>
<text class="tl" transform="translate(72.00 773.00) rotate(-90) scale(1 1.02)" text-anchor="middle" style="letter-spacing:0.6px">Voltage(V)</text>
<rect x="1525" y="98" width="510" height="245" fill="#fff" stroke="#262626" stroke-width="4"/>
<path d="M1541.5 163H1714" stroke="#000" stroke-width="10" fill="none" shape-rendering="crispEdges"/>
<path d="M1541.5 278H1714" stroke="#f00" stroke-width="10" stroke-dasharray="35.3 33.4" fill="none" shape-rendering="crispEdges"/>
<g><text class="lg" transform="translate(1726.3 199.8) scale(1 1.02)" clip-path="url(#one3)">K1</text><text class="lg sup" transform="translate(1812.3 166.4) scale(1.05 1)">eff</text><text class="lg" transform="translate(1880.6 199.8) scale(1 1.02)">=49</text></g>
<g><text class="lg" transform="translate(1726.3 315.3) scale(1 1.02)" clip-path="url(#one3)">K1</text><text class="lg sup" transform="translate(1812.3 281.9) scale(1.05 1)">eff</text><text class="lg" transform="translate(1880.6 315.3) scale(1 1.02)" clip-path="url(#one4)">=1.4</text></g>
</svg>
</body>
</html>
